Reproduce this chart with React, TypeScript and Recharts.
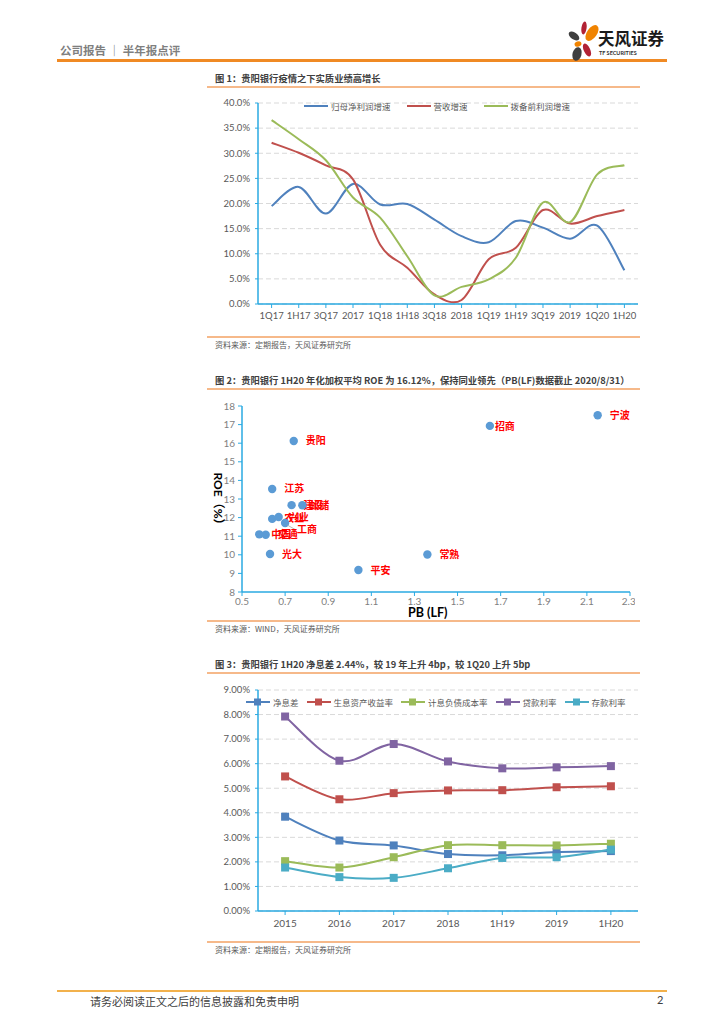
import React from "react";
import {
  LineChart,
  Line,
  XAxis,
  YAxis,
  CartesianGrid,
  Legend,
  ScatterChart,
  Scatter,
} from "recharts";

// ---- 图1 数据 ----
const quarters = ["1Q17", "1H17", "3Q17", "2017", "1Q18", "1H18", "3Q18", "2018", "1Q19", "1H19", "3Q19", "2019", "1Q20", "1H20"];
const profitGrowth = [19.5, 23.3, 18.0, 23.9, 19.8, 19.9, 16.8, 13.5, 12.3, 16.5, 15.2, 13.0, 15.6, 6.7];
const revenueGrowth = [32.1, 30.1, 27.6, 24.8, 11.8, 7.2, 1.9, 0.8, 8.9, 11.2, 18.7, 16.0, 17.5, 18.7];
const ppopGrowth = [36.6, 32.8, 28.6, 21.2, 17.2, 9.5, 1.7, 3.4, 4.9, 9.2, 20.2, 16.3, 25.8, 27.6];
const growthTicks = [0, 5, 10, 15, 20, 25, 30, 35, 40];

// ---- 图2 数据 ----
const banks = ["宁波", "招商", "贵阳", "江苏", "建设", "邮储", "农业", "兴业", "工商", "中国", "交通", "光大", "常熟", "平安"];
const bankPb = [2.15, 1.65, 0.74, 0.64, 0.73, 0.78, 0.64, 0.67, 0.7, 0.58, 0.61, 0.63, 1.36, 1.04];
const bankRoe = [17.5, 16.93, 16.12, 13.54, 12.67, 12.66, 11.93, 12.03, 11.71, 11.1, 11.08, 10.04, 10.02, 9.18];
const pbTicks = [0.5, 0.7, 0.9, 1.1, 1.3, 1.5, 1.7, 1.9, 2.1, 2.3];
const roeTicks = [8, 9, 10, 11, 12, 13, 14, 15, 16, 17, 18];

// ---- 图3 数据 ----
const periods = ["2015", "2016", "2017", "2018", "1H19", "2019", "1H20"];
const nim = [3.84, 2.87, 2.67, 2.32, 2.27, 2.4, 2.44];
const assetYield = [5.48, 4.55, 4.8, 4.91, 4.92, 5.04, 5.08];
const liabilityCost = [2.03, 1.77, 2.19, 2.68, 2.68, 2.67, 2.74];
const loanRate = [7.92, 6.12, 6.8, 6.09, 5.81, 5.85, 5.9];
const depositRate = [1.77, 1.38, 1.35, 1.74, 2.16, 2.19, 2.5];
const rateTicks = [0, 1, 2, 3, 4, 5, 6, 7, 8, 9];

const growthData = quarters.map((q, i) => ({
  q,
  profit: profitGrowth[i],
  revenue: revenueGrowth[i],
  ppop: ppopGrowth[i],
}));

const bankData = banks.map((name, i) => ({ name, pb: bankPb[i], roe: bankRoe[i] }));

const rateData = periods.map((p, i) => ({
  p,
  nim: nim[i],
  assetYield: assetYield[i],
  liabilityCost: liabilityCost[i],
  loanRate: loanRate[i],
  depositRate: depositRate[i],
}));

const CJK = '"Noto Sans CJK SC", sans-serif';
const NUM = 'Lato, "Noto Sans CJK SC", sans-serif';
const AXIS_BLUE = "#2AAAE2";
const TICK_GRAY = "#595959";
const ORANGE = "#F08A24";
const LIGHT_ORANGE = "#F6B98A";

// Excel-style smoothed line (Catmull-Rom like)
const excelCurve: any = (context: any) => {
  let pts: [number, number][] = [];
  return {
    areaStart() {},
    areaEnd() {},
    lineStart() {
      pts = [];
    },
    lineEnd() {
      if (!pts.length) return;
      context.moveTo(pts[0][0], pts[0][1]);
      for (let i = 0; i < pts.length - 1; i++) {
        const p0 = pts[i - 1] || pts[i];
        const p1 = pts[i];
        const p2 = pts[i + 1];
        const p3 = pts[i + 2] || p2;
        context.bezierCurveTo(
          p1[0] + (p2[0] - p0[0]) / 6,
          p1[1] + (p2[1] - p0[1]) / 6,
          p2[0] - (p3[0] - p1[0]) / 6,
          p2[1] - (p3[1] - p1[1]) / 6,
          p2[0],
          p2[1]
        );
      }
    },
    point(x: number, y: number) {
      pts.push([x, y]);
    },
  };
};

type LegendItem = { label: string; color: string; marker?: boolean };

const LegendRow = ({ items, gap }: { items: LegendItem[]; gap: number }) => (
  <div style={{ display: "flex", alignItems: "center", gap, fontFamily: CJK, fontSize: 8.5, color: "#595959" }}>
    {items.map((it) => (
      <div key={it.label} style={{ display: "flex", alignItems: "center", gap: 3 }}>
        <svg width={24} height={10}>
          <line x1={0} y1={5} x2={24} y2={5} stroke={it.color} strokeWidth={2} />
          {it.marker && <rect x={8} y={1.5} width={7} height={7} fill={it.color} />}
        </svg>
        <span>{it.label}</span>
      </div>
    ))}
  </div>
);

const growthLegend: LegendItem[] = [
  { label: "归母净利润增速", color: "#4F81BD" },
  { label: "营收增速", color: "#C0504D" },
  { label: "拨备前利润增速", color: "#9BBB59" },
];

const rateLegend: LegendItem[] = [
  { label: "净息差", color: "#4F81BD", marker: true },
  { label: "生息资产收益率", color: "#C0504D", marker: true },
  { label: "计息负债成本率", color: "#9BBB59", marker: true },
  { label: "贷款利率", color: "#8064A2", marker: true },
  { label: "存款利率", color: "#4BACC6", marker: true },
];

// label offsets for scatter point names (px)
const labelOffset: Record<string, [number, number]> = {
  招商: [5, 1],
  邮储: [7, 0],
  兴业: [10, 0],
  工商: [12, 7],
};

const SquareDot = (color: string) => (props: any) => {
  const { cx, cy } = props;
  if (cx == null || cy == null) return null;
  return <rect x={cx - 4} y={cy - 4} width={8} height={8} fill={color} />;
};

const BankPoint = (props: any) => {
  const { cx, cy, payload } = props;
  const [dx, dy] = labelOffset[payload.name] || [12, 0];
  return (
    <g>
      <circle cx={cx} cy={cy} r={4.2} fill="#5B9BD5" />
      {payload.name === "工商" && (
        <line x1={cx + 2} y1={cy + 2} x2={cx + dx - 1} y2={cy + dy} stroke="#A6A6A6" strokeWidth={0.8} />
      )}
      <text
        x={cx + dx}
        y={cy + dy}
        dy="0.35em"
        fill="#FF0000"
        fontSize={10}
        fontWeight="bold"
        fontFamily={CJK}
      >
        {payload.name}
      </text>
    </g>
  );
};

const Title = ({ top, children }: { top: number; children: React.ReactNode }) => (
  <>
    <div
      style={{
        position: "absolute",
        left: 215,
        top,
        fontFamily: CJK,
        fontSize: 9.3,
        fontWeight: "bold",
        color: "#404040",
        whiteSpace: "nowrap",
      }}
    >
      {children}
    </div>
    <div style={{ position: "absolute", left: 207, top: top + 15, width: 433, height: 2, background: LIGHT_ORANGE }} />
  </>
);

const Source = ({ top, children }: { top: number; children: React.ReactNode }) => (
  <>
    <div style={{ position: "absolute", left: 207, top, width: 433, height: 1.5, background: LIGHT_ORANGE }} />
    <div
      style={{
        position: "absolute",
        left: 215,
        top: top + 3,
        fontFamily: CJK,
        fontSize: 8,
        color: "#595959",
        whiteSpace: "nowrap",
      }}
    >
      {children}
    </div>
  </>
);

const Logo = () => (
  <svg width={40} height={48} style={{ position: "absolute", left: 562, top: 16 }}>
    <ellipse cx={22} cy={12} rx={2.6} ry={6.5} fill="#B22234" transform="rotate(8 22 12)" />
    <ellipse cx={30} cy={17} rx={5} ry={9} fill="#F08300" transform="rotate(35 30 17)" />
    <ellipse cx={12} cy={20} rx={3.5} ry={6} fill="#3F3F3F" transform="rotate(-55 12 20)" />
    <ellipse cx={16} cy={28} rx={3.5} ry={2.6} fill="#F08300" transform="rotate(-20 16 28)" />
    <ellipse cx={15} cy={38} rx={4.5} ry={7} fill="#3F3F3F" transform="rotate(15 15 38)" />
    <ellipse cx={25} cy={34} rx={3.2} ry={7} fill="#B22234" transform="rotate(-25 25 34)" />
  </svg>
);

export default function App() {
  const tickStyle = { fontSize: 9.5, fill: TICK_GRAY, fontFamily: NUM };
  return (
    <div style={{ position: "absolute", left: 0, top: 0, width: 724, height: 1024, background: "#fff", overflow: "hidden" }}>
      {/* header */}
      <div style={{ position: "absolute", left: 60, top: 42, fontFamily: CJK, fontSize: 11.5, fontWeight: "bold", color: "#7F7F7F", whiteSpace: "nowrap" }}>
        公司报告 ｜ 半年报点评
      </div>
      <div style={{ position: "absolute", left: 57, top: 59, width: 610, height: 3, background: ORANGE }} />
      <Logo />
      <div style={{ position: "absolute", left: 598, top: 28, fontFamily: CJK, fontSize: 16.5, lineHeight: "20px", fontWeight: "bold", color: "#1A1A1A", whiteSpace: "nowrap" }}>
        天风证券
      </div>
      <div style={{ position: "absolute", left: 599, top: 50, fontFamily: NUM, fontSize: 5.5, lineHeight: "7px", fontWeight: "bold", color: "#333", whiteSpace: "nowrap" }}>
        TF SECURITIES
      </div>

      {/* 图1 */}
      <Title top={71}>图 1：贵阳银行疫情之下实质业绩高增长</Title>
      <div style={{ position: "absolute", left: 210, top: 95 }}>
        <LineChart width={432} height={232} data={growthData} margin={{ top: 8, right: 4, bottom: 3, left: 8 }}>
          <CartesianGrid vertical={false} stroke="#D9D9D9" strokeDasharray="5 3" />
          <XAxis
            dataKey="q"
            interval={0}
            height={20}
            padding={{ left: 13.6, right: 13.6 }}
            tick={tickStyle}
            tickSize={4}
            tickMargin={4}
            axisLine={{ stroke: AXIS_BLUE, strokeWidth: 1.5 }}
            tickLine={{ stroke: AXIS_BLUE }}
          />
          <YAxis
            width={40}
            domain={[0, 40]}
            ticks={growthTicks}
            tickFormatter={(v: number) => `${v.toFixed(1)}%`}
            tick={tickStyle}
            tickSize={3}
            tickMargin={5}
            axisLine={{ stroke: AXIS_BLUE, strokeWidth: 1.5 }}
            tickLine={{ stroke: AXIS_BLUE }}
          />
          <Legend
            verticalAlign="middle"
            align="center"
            wrapperStyle={{ top: 5, left: 94, width: 300 }}
            content={() => <LegendRow items={growthLegend} gap={16} />}
          />
          <Line dataKey="profit" type={excelCurve} stroke="#4F81BD" strokeWidth={2} dot={false} isAnimationActive={false} />
          <Line dataKey="revenue" type={excelCurve} stroke="#C0504D" strokeWidth={2} dot={false} isAnimationActive={false} />
          <Line dataKey="ppop" type={excelCurve} stroke="#9BBB59" strokeWidth={2} dot={false} isAnimationActive={false} />
        </LineChart>
      </div>
      <Source top={336}>资料来源：定期报告，天风证券研究所</Source>

      {/* 图2 */}
      <Title top={373}>图 2：贵阳银行 1H20 年化加权平均 ROE 为 16.12%，保持同业领先（PB(LF)数据截止 2020/8/31）</Title>
      <div style={{ position: "absolute", left: 205, top: 398 }}>
        <ScatterChart width={430} height={225} margin={{ top: 8, right: 5, bottom: 3, left: 7 }}>
          <XAxis
            type="number"
            dataKey="pb"
            domain={[0.5, 2.3]}
            ticks={pbTicks}
            tickFormatter={(v: number) => `${v}`}
            height={28}
            tick={{ ...tickStyle, fontSize: 10, fill: "#7F7F7F" }}
            tickSize={4}
            tickMargin={2}
            axisLine={{ stroke: AXIS_BLUE, strokeWidth: 1.5 }}
            tickLine={{ stroke: AXIS_BLUE }}
          />
          <YAxis
            type="number"
            dataKey="roe"
            domain={[8, 18]}
            ticks={roeTicks}
            width={30}
            tick={{ ...tickStyle, fontSize: 10, fill: "#7F7F7F" }}
            tickSize={4}
            tickMargin={3}
            axisLine={{ stroke: AXIS_BLUE, strokeWidth: 1.5 }}
            tickLine={{ stroke: AXIS_BLUE }}
          />
          <Scatter data={bankData} shape={BankPoint} isAnimationActive={false} />
        </ScatterChart>
      </div>
      <div
        style={{
          position: "absolute",
          left: 194,
          top: 489,
          width: 50,
          fontFamily: NUM,
          fontSize: 12,
          fontWeight: "bold",
          color: "#000",
          whiteSpace: "nowrap",
          transform: "rotate(90deg)",
          transformOrigin: "center",
          textAlign: "center",
        }}
      >
        ROE（%）
      </div>
      <div style={{ position: "absolute", left: 408, top: 605, fontFamily: NUM, fontSize: 12.5, fontWeight: "bold", color: "#000", whiteSpace: "nowrap" }}>
        PB (LF)
      </div>
      <Source top={620}>资料来源：WIND，天风证券研究所</Source>

      {/* 图3 */}
      <Title top={657}>图 3：贵阳银行 1H20 净息差 2.44%，较 19 年上升 4bp，较 1Q20 上升 5bp</Title>
      <div style={{ position: "absolute", left: 210, top: 682 }}>
        <LineChart width={432} height={252} data={rateData} margin={{ top: 8, right: 4, bottom: 3, left: 8 }}>
          <CartesianGrid vertical={false} stroke="#D9D9D9" strokeDasharray="5 3" />
          <XAxis
            dataKey="p"
            interval={0}
            height={20}
            padding={{ left: 27.1, right: 27.1 }}
            tick={{ ...tickStyle, fontSize: 10 }}
            tickSize={4}
            tickMargin={5}
            axisLine={{ stroke: AXIS_BLUE, strokeWidth: 1.5 }}
            tickLine={{ stroke: AXIS_BLUE }}
          />
          <YAxis
            width={40}
            domain={[0, 9]}
            ticks={rateTicks}
            tickFormatter={(v: number) => `${v.toFixed(2)}%`}
            tick={tickStyle}
            tickSize={3}
            tickMargin={5}
            axisLine={{ stroke: AXIS_BLUE, strokeWidth: 1.5 }}
            tickLine={{ stroke: AXIS_BLUE }}
          />
          <Legend
            verticalAlign="middle"
            align="center"
            wrapperStyle={{ top: 14, left: 36, width: 400 }}
            content={() => <LegendRow items={rateLegend} gap={8} />}
          />
          <Line dataKey="nim" type={excelCurve} stroke="#4F81BD" strokeWidth={2} dot={SquareDot("#4F81BD")} isAnimationActive={false} />
          <Line dataKey="assetYield" type={excelCurve} stroke="#C0504D" strokeWidth={2} dot={SquareDot("#C0504D")} isAnimationActive={false} />
          <Line dataKey="liabilityCost" type={excelCurve} stroke="#9BBB59" strokeWidth={2} dot={SquareDot("#9BBB59")} isAnimationActive={false} />
          <Line dataKey="loanRate" type={excelCurve} stroke="#8064A2" strokeWidth={2} dot={SquareDot("#8064A2")} isAnimationActive={false} />
          <Line dataKey="depositRate" type={excelCurve} stroke="#4BACC6" strokeWidth={2} dot={SquareDot("#4BACC6")} isAnimationActive={false} />
        </LineChart>
      </div>
      <Source top={941}>资料来源：定期报告，天风证券研究所</Source>

      {/* footer */}
      <div style={{ position: "absolute", left: 57, top: 990, width: 610, height: 1.5, background: "#F2B14C" }} />
      <div style={{ position: "absolute", left: 90, top: 993, fontFamily: CJK, fontSize: 11, color: "#404040", whiteSpace: "nowrap" }}>
        请务必阅读正文之后的信息披露和免责申明
      </div>
      <div style={{ position: "absolute", left: 657, top: 993, fontFamily: NUM, fontSize: 11, color: "#404040" }}>2</div>
    </div>
  );
}
